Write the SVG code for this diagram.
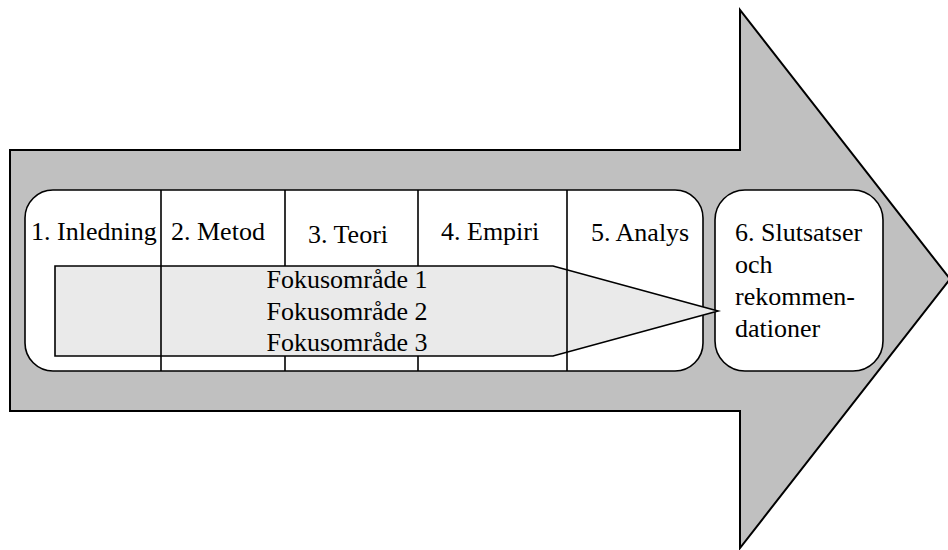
<svg xmlns="http://www.w3.org/2000/svg" width="948" height="550" viewBox="0 0 948 550">
<style>
.ln{stroke:#000;stroke-width:1.6;fill:none}
.box{fill:#fff;stroke:#000;stroke-width:1.6}
.t{font-family:"Liberation Serif","Times New Roman",serif;font-size:26px;fill:#000}
</style>
<rect width="948" height="550" fill="#fff"/>
<g id="arrow">
<polygon points="10,150 740,150 740,10 950,279 740,548 740,411 10,411" fill="#c0c0c0" stroke="#000" stroke-width="2" stroke-linejoin="miter"/>
</g>
<g id="phases">
<rect class="box" x="25" y="190" width="678" height="181" rx="28" ry="28"/>
<line class="ln" x1="285" y1="190" x2="285" y2="371"/>
<line class="ln" x1="418" y1="190" x2="418" y2="371"/>
</g>
<g id="node6">
<rect class="box" x="715" y="190" width="168" height="181" rx="30" ry="30"/>
<text class="t" x="735" y="241">6. Slutsatser</text>
<text class="t" x="735" y="273">och</text>
<text class="t" x="735" y="305">rekommen-</text>
<text class="t" x="735" y="337">dationer</text>
</g>
<g id="focus">
<polygon points="55,266 553,266 718,311 553,356 55,356" fill="#eaeaea" stroke="#000" stroke-width="1.6"/>
<text class="t" x="347" y="288" text-anchor="middle">Fokusområde 1</text>
<text class="t" x="347" y="320" text-anchor="middle">Fokusområde 2</text>
<text class="t" x="347" y="351" text-anchor="middle">Fokusområde 3</text>
</g>
<g id="dividers">
<line class="ln" x1="161" y1="190" x2="161" y2="371"/>
<line class="ln" x1="567" y1="190" x2="567" y2="371"/>
</g>
<g id="node1"><text class="t" x="31" y="240">1. Inledning</text></g>
<g id="node2"><text class="t" x="171" y="240">2. Metod</text></g>
<g id="node3"><text class="t" x="308" y="243">3. Teori</text></g>
<g id="node4"><text class="t" x="441" y="240">4. Empiri</text></g>
<g id="node5"><text class="t" x="591" y="241">5. Analys</text></g>
</svg>
